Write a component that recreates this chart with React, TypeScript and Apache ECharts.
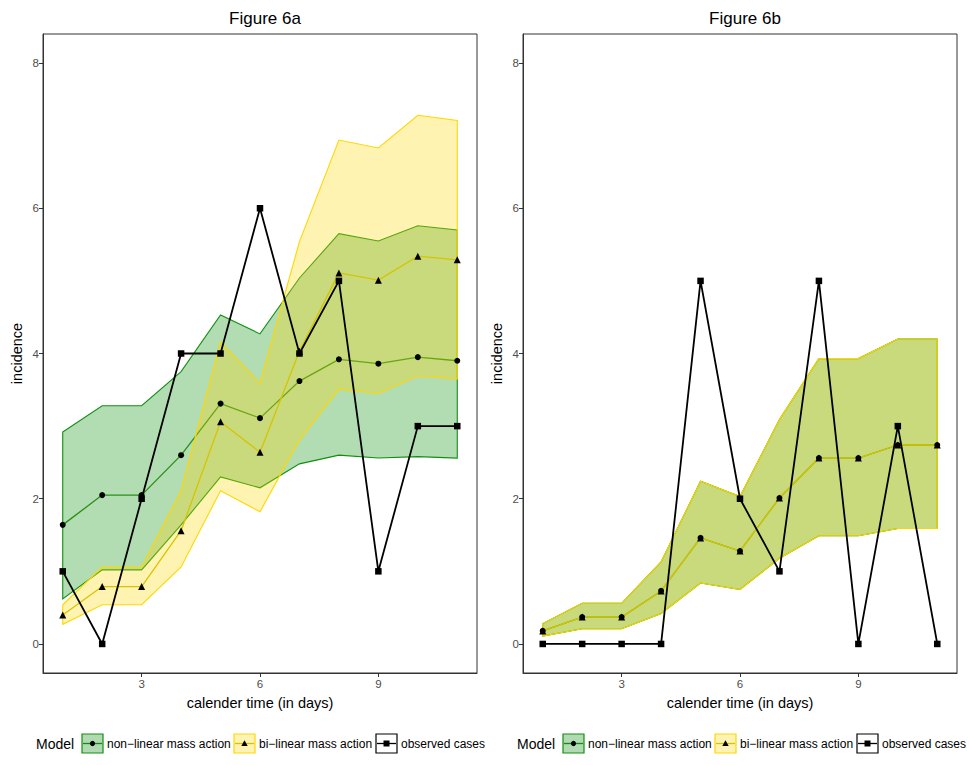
import React, { useEffect, useRef } from "react";
import * as echarts from "echarts";

const days = [1, 2, 3, 4, 5, 6, 7, 8, 9, 10, 11];
const xTicks = [3, 6, 9];
const yTicks = [0, 2, 4, 6, 8];

// Figure 6a
const aNonLinUpper = [2.92, 3.28, 3.28, 3.75, 4.53, 4.27, 5.04, 5.65, 5.55, 5.76, 5.7];
const aNonLinLower = [0.62, 1.02, 1.02, 1.64, 2.3, 2.15, 2.48, 2.6, 2.56, 2.58, 2.56];
const aNonLinMean = [1.64, 2.05, 2.05, 2.6, 3.31, 3.11, 3.62, 3.92, 3.86, 3.95, 3.9];
const aBiLinUpper = [0.54, 1.06, 1.06, 2.11, 4.16, 3.59, 5.54, 6.94, 6.83, 7.28, 7.21];
const aBiLinLower = [0.27, 0.54, 0.54, 1.06, 2.11, 1.82, 2.81, 3.51, 3.45, 3.69, 3.65];
const aBiLinMean = [0.4, 0.79, 0.79, 1.56, 3.06, 2.64, 4.03, 5.11, 5.01, 5.34, 5.29];
const aObserved = [1, 0, 2, 4, 4, 6, 4, 5, 1, 3, 3];

// Figure 6b
const bNonLinUpper = [0.28, 0.56, 0.56, 1.13, 2.24, 2.03, 3.09, 3.93, 3.93, 4.2, 4.2];
const bNonLinLower = [0.11, 0.21, 0.21, 0.42, 0.84, 0.75, 1.18, 1.49, 1.49, 1.59, 1.59];
const bNonLinMean = [0.18, 0.37, 0.37, 0.73, 1.46, 1.28, 2.01, 2.56, 2.56, 2.74, 2.74];
const bBiLinUpper = [0.28, 0.56, 0.56, 1.13, 2.24, 2.03, 3.09, 3.93, 3.93, 4.2, 4.2];
const bBiLinLower = [0.11, 0.21, 0.21, 0.42, 0.84, 0.75, 1.18, 1.49, 1.49, 1.59, 1.59];
const bBiLinMean = [0.18, 0.37, 0.37, 0.73, 1.46, 1.28, 2.01, 2.56, 2.56, 2.74, 2.74];
const bObserved = [0, 0, 0, 0, 5, 2, 1, 5, 0, 3, 0];

const titles = ["Figure 6a", "Figure 6b"];
const legendNames = ["non\u2212linear mass action", "bi\u2212linear mass action", "observed cases"];

const FONT = "Liberation Sans, Arial, Helvetica, sans-serif";
const GREEN = "#118f11";
const GREEN_FILL = "rgba(0,139,0,0.3)";
const GOLD = "#FFD700";
const GOLD_FILL = "rgba(255,215,0,0.3)";
const GREEN_LINE = "#2b8f16";
const GOLD_LINE = "#d6c400";

const panels = [
  { nlU: aNonLinUpper, nlL: aNonLinLower, nlM: aNonLinMean, blU: aBiLinUpper, blL: aBiLinLower, blM: aBiLinMean, obs: aObserved },
  { nlU: bNonLinUpper, nlL: bNonLinLower, nlM: bNonLinMean, blU: bBiLinUpper, blL: bBiLinLower, blM: bBiLinMean, obs: bObserved },
];

function bandSeries(upper: number[], lower: number[], idx: number, stroke: string, fill: string, z: number) {
  return {
    type: "custom",
    xAxisIndex: idx,
    yAxisIndex: idx,
    z,
    silent: true,
    data: days.map((d, i) => [d, lower[i], upper[i]]),
    renderItem: (params: any, api: any) => {
      if (params.dataIndex !== 0) return null;
      const pts: number[][] = [];
      for (let i = 0; i < days.length; i++) pts.push(api.coord([days[i], upper[i]]));
      for (let i = days.length - 1; i >= 0; i--) pts.push(api.coord([days[i], lower[i]]));
      return {
        type: "polygon",
        shape: { points: pts },
        style: { fill, stroke, lineWidth: 1.1 },
      };
    },
  };
}

function lineSeries(vals: number[], idx: number, color: string, width: number, z: number) {
  return {
    type: "line",
    xAxisIndex: idx,
    yAxisIndex: idx,
    z,
    data: days.map((d, i) => [d, vals[i]]),
    symbol: "none",
    showSymbol: false,
    lineStyle: { color, width },
    silent: true,
  };
}

function markSeries(vals: number[], idx: number, symbol: string, size: number) {
  return {
    type: "scatter",
    xAxisIndex: idx,
    yAxisIndex: idx,
    z: 7,
    data: days.map((d, i) => [d, vals[i]]),
    symbol,
    symbolSize: size,
    itemStyle: { color: "#000", opacity: 1 },
    silent: true,
  };
}

function legendGraphics(offset: number) {
  const els: any[] = [];
  els.push({
    type: "text",
    x: 36 + offset,
    y: 744,
    style: { text: "Model", fontFamily: FONT, fontSize: 14, fill: "#000", verticalAlign: "middle" },
  });
  const keys = [
    { x: 82, stroke: GREEN, fill: "#b2dab2", line: GREEN, mark: "circle", tx: 107 },
    { x: 234, stroke: GOLD, fill: "#fff3b3", line: GOLD_LINE, mark: "tri", tx: 259 },
    { x: 376, stroke: "#000", fill: "#fff", line: "#000", mark: "sq", tx: 401 },
  ];
  keys.forEach((k, i) => {
    const x = k.x + offset;
    els.push({ type: "rect", shape: { x, y: 734, width: 21, height: 19 }, style: { fill: k.fill, stroke: k.stroke, lineWidth: 1.2 } });
    els.push({ type: "line", shape: { x1: x + 1, y1: 743.5, x2: x + 20, y2: 743.5 }, style: { stroke: k.line, lineWidth: 1.3 } });
    const cx = x + 10.5;
    const cy = 743.5;
    if (k.mark === "circle") els.push({ type: "circle", shape: { cx, cy, r: 2.6 }, style: { fill: "#000" } });
    else if (k.mark === "tri")
      els.push({ type: "polygon", shape: { points: [[cx, cy - 3.2], [cx + 3.2, cy + 2.4], [cx - 3.2, cy + 2.4]] }, style: { fill: "#000" } });
    else els.push({ type: "rect", shape: { x: cx - 3, y: cy - 3, width: 6, height: 6 }, style: { fill: "#000" } });
    els.push({
      type: "text",
      x: k.tx + offset,
      y: 744,
      style: { text: legendNames[i], fontFamily: FONT, fontSize: 12, fill: "#000", verticalAlign: "middle" },
    });
  });
  return els;
}

export default function App() {
  const ref = useRef<HTMLDivElement>(null);
  useEffect(() => {
    document.body.style.margin = "0";
    if (!ref.current) return;
    const chart = echarts.init(ref.current, null, { renderer: "svg" });
    const lefts = [43, 523];
    const grids = lefts.map((l) => ({
      left: l,
      top: 34,
      width: 434,
      height: 639,
      show: true,
      borderColor: "#333",
      borderWidth: 1,
      backgroundColor: "transparent",
      containLabel: false,
    }));
    const xAxes = lefts.map((_, i) => ({
      type: "value",
      gridIndex: i,
      min: 0.5,
      max: 11.5,
      name: "calender time (in days)",
      nameLocation: "middle",
      nameGap: 22,
      nameTextStyle: { fontFamily: FONT, fontSize: 14.5, color: "#000" },
      axisLine: { show: true, onZero: false, lineStyle: { color: "#333", width: 1 } },
      axisTick: { show: true, inside: false, length: 4, lineStyle: { color: "#333" }, customValues: xTicks },
      axisLabel: { fontFamily: FONT, fontSize: 11.5, color: "#4d4d4d", margin: 5, customValues: xTicks },
      splitLine: { show: false },
    }));
    const yAxes = lefts.map((_, i) => ({
      type: "value",
      gridIndex: i,
      min: -0.4,
      max: 8.4,
      name: "incidence",
      nameLocation: "middle",
      nameGap: 19,
      nameRotate: 90,
      nameTextStyle: { fontFamily: FONT, fontSize: 14.5, color: "#000" },
      axisLine: { show: true, onZero: false, lineStyle: { color: "#333", width: 1 } },
      axisTick: { show: true, inside: false, length: 4, lineStyle: { color: "#333" }, customValues: yTicks },
      axisLabel: { fontFamily: FONT, fontSize: 11.5, color: "#4d4d4d", margin: 4, customValues: yTicks },
      splitLine: { show: false },
    }));
    const series: any[] = [];
    panels.forEach((p, i) => {
      series.push(bandSeries(p.nlU, p.nlL, i, GREEN, GREEN_FILL, 1));
      series.push(lineSeries(p.nlM, i, GREEN_LINE, 1.3, 2));
      series.push(bandSeries(p.blU, p.blL, i, GOLD, GOLD_FILL, 3));
      series.push(lineSeries(p.blM, i, GOLD_LINE, 1.3, 4));
      series.push(lineSeries(p.obs, i, "#000", 1.8, 5));
      series.push(markSeries(p.nlM, i, "circle", 6));
      series.push(markSeries(p.blM, i, "triangle", 7));
      series.push(markSeries(p.obs, i, "rect", 6.5));
    });
    chart.setOption({
      animation: false,
      backgroundColor: "#fff",
      title: titles.map((t, i) => ({
        text: t,
        left: lefts[i] + 217,
        top: 5,
        textAlign: "center",
        textStyle: { fontFamily: FONT, fontSize: 17, fontWeight: "normal", color: "#000" },
      })),
      grid: grids,
      xAxis: xAxes,
      yAxis: yAxes,
      series,
      graphic: [...legendGraphics(0), ...legendGraphics(481)],
    });
    return () => chart.dispose();
  }, []);
  return <div ref={ref} style={{ width: 969, height: 765 }} />;
}
